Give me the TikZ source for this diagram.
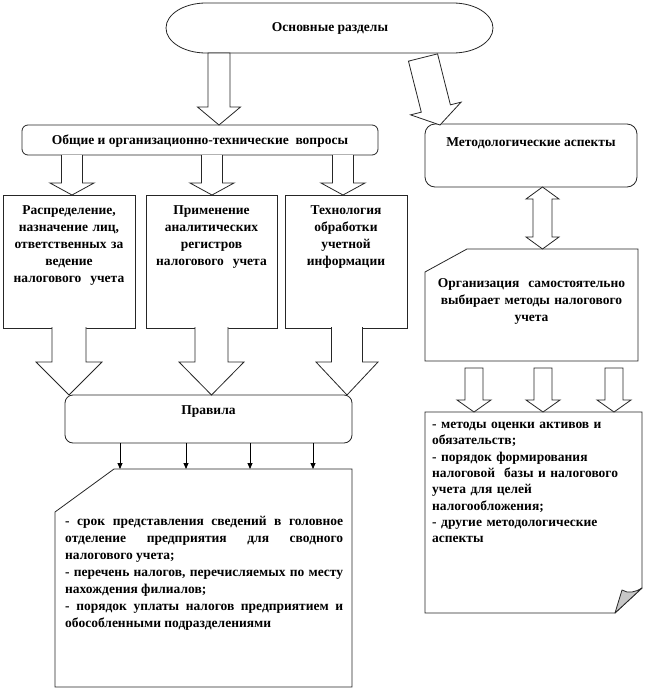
\documentclass[tikz,border=0pt]{standalone}
\usepackage{fontspec}
\setmainfont{Liberation Serif}
\usetikzlibrary{calc,arrows.meta}
\tikzset{
  ln/.style={draw=black!85, line width=0.8pt},
  boxr/.style={ln, rounded corners=#1, fill=white, inner sep=0pt},
  boxs/.style={ln, fill=white, inner sep=0pt},
  ghost/.style={draw=none, inner sep=0pt},
  txt/.style={font=\fontsize{13.5}{17}\selectfont\bfseries, inner sep=0pt},
  blk/.style={ln, fill=white, line join=miter},
  thinarrow/.style={draw=black, line width=0.8pt, -{Triangle[length=6pt,width=5pt]}},
  flap/.style={ln, fill=black!22, line join=round},
}
% closed block arrow: #1 start, #2 tip, #3 shaft half width, #4 head half width, #5 head length
\newcommand{\blockarrow}[5]{%
  \coordinate (baS) at (#1);
  \coordinate (baT) at (#2);
  \coordinate (baH) at ($(baT)!#5!(baS)$);
  \filldraw[blk] ($(baS)!#3!90:(baT)$) -- ($(baH)!#3!-90:(baS)$) -- ($(baH)!#4!-90:(baS)$)
     -- (baT) -- ($(baH)!#4!90:(baS)$) -- ($(baH)!#3!90:(baS)$) -- ($(baS)!#3!-90:(baT)$) -- cycle;
}
% open-topped block arrow (covers the border it leaves)
\newcommand{\blockarrowopen}[5]{%
  \coordinate (baS) at (#1);
  \coordinate (baT) at (#2);
  \coordinate (baH) at ($(baT)!#5!(baS)$);
  \fill[white] ($(baS)!#3!90:(baT)$) -- ($(baH)!#3!-90:(baS)$) -- ($(baH)!#4!-90:(baS)$)
     -- (baT) -- ($(baH)!#4!90:(baS)$) -- ($(baH)!#3!90:(baS)$) -- ($(baS)!#3!-90:(baT)$) -- cycle;
  \draw[blk] ($(baS)!#3!90:(baT)$) -- ($(baH)!#3!-90:(baS)$) -- ($(baH)!#4!-90:(baS)$)
     -- (baT) -- ($(baH)!#4!90:(baS)$) -- ($(baH)!#3!90:(baS)$) -- ($(baS)!#3!-90:(baT)$);
}
\begin{document}
\begin{tikzpicture}[x=1pt,y=-1pt]
\useasboundingbox[fill=white] (0,0) rectangle (645,691);

% ---- top capsule
\node[ghost, minimum width=327pt, minimum height=50pt] (main) at (329.5,28) {};
\draw[ln, fill=white] (206,3) -- (453,3) .. controls (475.1,3) and (493,14.2) .. (493,28)
  .. controls (493,41.8) and (475.1,53) .. (453,53) -- (206,53)
  .. controls (183.9,53) and (166,41.8) .. (166,28)
  .. controls (166,14.2) and (183.9,3) .. (206,3) -- cycle;
\node[txt, anchor=base] (maint) at (330,31) {Основные разделы};

% ---- second level
\node[boxr=6pt, minimum width=356pt, minimum height=30pt] (gen) at (200,140) {};
\node[txt, anchor=base] (gent) at (200,144.5) {Общие и организационно-технические\ \ вопросы};

\node[boxr=10pt, minimum width=212pt, minimum height=63pt] (meth) at (531,155.5) {};
\node[txt, anchor=base] (metht) at (531,146.5) {Методологические аспекты};

% ---- third level boxes
\node[boxs, minimum width=132pt, minimum height=133pt] (ra) at (69,261.5) {};
\node[boxs, minimum width=131pt, minimum height=133pt] (rb) at (211.5,261.5) {};
\node[boxs, minimum width=122pt, minimum height=133pt] (rc) at (346,261.5) {};
\node[txt, anchor=north, text width=128pt, align=center] (rat) at (69,205)
  {Распределение,\\ назначение лиц,\\ ответственных за\\ ведение\\ налогового\ \ учета};
\node[txt, anchor=north, text width=128pt, align=center] (rbt) at (211.5,205)
  {Применение\\ аналитических\\ регистров\\ налогового\ \ учета};
\node[txt, anchor=north, text width=118pt, align=center] (rct) at (346,205)
  {Технология\\ обработки\\ учетной\\ информации};

% ---- rules
\node[boxr=8pt, minimum width=287pt, minimum height=48pt] (rules) at (208.5,419) {};
\node[txt, anchor=base] (rulest) at (208.5,414.5) {Правила};

% ---- bottom left note
\node[ghost, minimum width=297pt, minimum height=218pt] (notes) at (203.5,578) {};
\draw[ln, fill=white, line join=miter] (55,512) -- (114,469) -- (352,469) -- (352,687) -- (55,687) -- cycle;
\node[txt, anchor=north west, text width=278pt, align=justify] (notest) at (65,516)
  {- срок представления сведений в головное\linebreak
   отделение предприятия для сводного\linebreak
   налогового учета;\\
   - перечень налогов, перечисляемых по месту\linebreak
   нахождения филиалов;\\
   - порядок уплаты налогов предприятием и\linebreak
   обособленными подразделениями};

% ---- right column
\node[ghost, minimum width=213pt, minimum height=112pt] (org) at (531.5,305) {};
\draw[ln, fill=white, line join=miter] (425,272) -- (467,249) -- (638,249) -- (638,361) -- (425,361) -- cycle;
\node[txt, anchor=north, text width=205pt, align=center] (orgt) at (531.5,278)
  {Организация\ \ самостоятельно\\ выбирает методы налогового\\ учета};

\node[ghost, minimum width=217pt, minimum height=201pt] (list) at (533.5,512.5) {};
\draw[ln, fill=white, line join=miter] (425,412) -- (642,412) -- (642,588) -- (615,613) -- (425,613) -- cycle;
\draw[flap] (615,613) -- (622,590) .. controls (628,594) and (636,592) .. (642,588) -- cycle;
\node[txt, font=\fontsize{13.5}{16.3}\selectfont\bfseries, anchor=north west, text width=205pt, align=left] (listt) at (432,422)
  {- методы оценки активов и\\ обязательств;\\ - порядок формирования\\ налоговой\ \ базы и налогового\\ учета для целей\\ налогообложения;\\ - другие методологические\\ аспекты};

% ---- block arrows
\coordinate (a1s) at (219,53);   \coordinate (a1t) at (219,125);
\blockarrow{a1s}{a1t}{11pt}{21.5pt}{18pt}
\coordinate (a2s) at (423,57.5); \coordinate (a2t) at (440,125);
\blockarrow{a2s}{a2t}{15pt}{26pt}{17pt}

\coordinate (g1s) at (72,155);  \coordinate (g1t) at (72,195);
\coordinate (g2s) at (212,155); \coordinate (g2t) at (212,195);
\coordinate (g3s) at (343,155); \coordinate (g3t) at (343,195);
\blockarrowopen{g1s}{g1t}{10.5pt}{22pt}{12pt}
\blockarrowopen{g2s}{g2t}{10.5pt}{22pt}{12pt}
\blockarrowopen{g3s}{g3t}{10.5pt}{22pt}{12pt}

\coordinate (b1s) at (69,327);   \coordinate (b1t) at (69,395);
\coordinate (b2s) at (211.5,327);\coordinate (b2t) at (211.5,395);
\coordinate (b3s) at (347,327);  \coordinate (b3t) at (347,395);
\blockarrowopen{b1s}{b1t}{17pt}{33pt}{33pt}
\blockarrowopen{b2s}{b2t}{16.5pt}{32.5pt}{33pt}
\blockarrowopen{b3s}{b3t}{15.5pt}{31pt}{33pt}

\coordinate (o1s) at (474,368); \coordinate (o1t) at (474,412);
\coordinate (o2s) at (543,368); \coordinate (o2t) at (543,412);
\coordinate (o3s) at (614,368); \coordinate (o3t) at (614,412);
\blockarrow{o1s}{o1t}{9pt}{17pt}{12pt}
\blockarrow{o2s}{o2t}{9pt}{17pt}{12pt}
\blockarrow{o3s}{o3t}{9pt}{17pt}{12pt}

% double arrow between meth and org
\coordinate (dT) at (542.5,187);
\coordinate (dB) at (542.5,249);
\filldraw[blk] (dT) -- ++(16.5,12) -- ++(-7,0) -- ++(0,38) -- ++(7,0) -- (dB)
  -- ++(-16.5,-12) -- ++(7,0) -- ++(0,-38) -- ++(-7,0) -- cycle;

% thin arrows from rules to notes
\foreach \x/\n in {120/1,186/2,250/3,313/4}{
  \coordinate (r\n s) at (\x,443);
  \coordinate (r\n t) at (\x,469);
  \draw[thinarrow] (r\n s) -- (r\n t);
}
\end{tikzpicture}
\end{document}
